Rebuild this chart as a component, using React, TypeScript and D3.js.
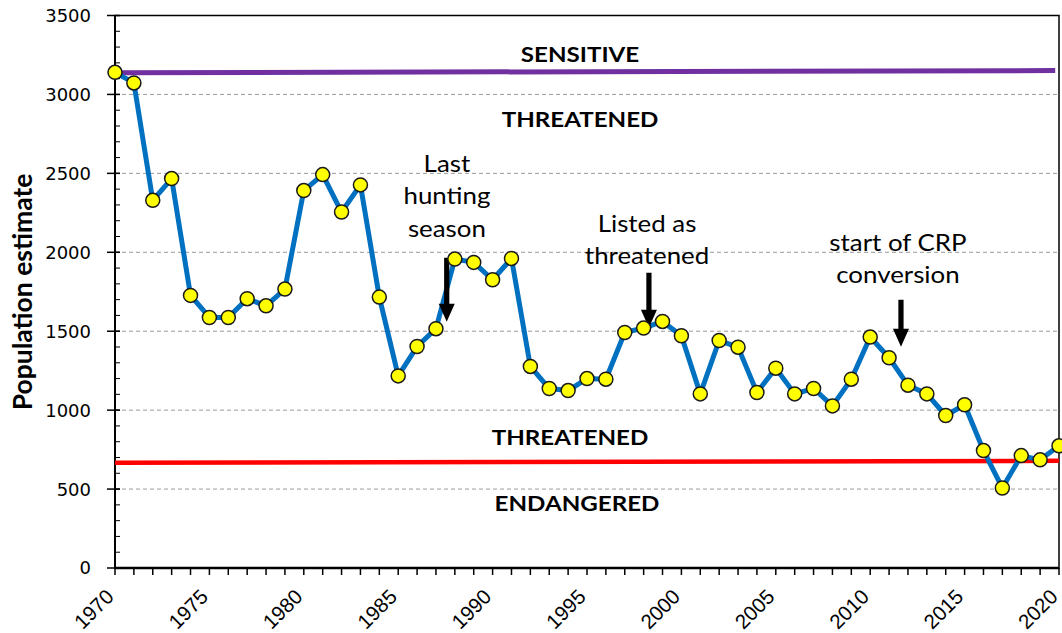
import React from "react";
import * as d3 from "d3";

const years: number[] = d3.range(1970, 2021);
const population: number[] = [
  3140, 3073, 2329, 2467, 1727, 1587, 1587, 1706, 1661, 1767,
  2391, 2492, 2255, 2427, 1716, 1217, 1403, 1516, 1957, 1936,
  1826, 1961, 1277, 1137, 1124, 1200, 1196, 1492, 1520, 1562,
  1471, 1103, 1441, 1399, 1112, 1266, 1103, 1137, 1027, 1196,
  1463, 1332, 1158, 1103, 966, 1034, 744, 507, 712, 685, 774,
];
const yTicks: number[] = [0, 500, 1000, 1500, 2000, 2500, 3000, 3500];
const xTickLabels: number[] = [1970, 1975, 1980, 1985, 1990, 1995, 2000, 2005, 2010, 2015, 2020];

const sensitiveLine = { x0: 1970, y0: 3137, x1: 2019.8, y1: 3151 };
const endangeredLine = { x0: 1970, y0: 666, x1: 2020, y1: 679 };

const zoneLabels = [
  { text: "SENSITIVE", x: 1994.63, y: 3208 },
  { text: "THREATENED", x: 1994.63, y: 2796 },
  { text: "THREATENED", x: 1994.1, y: 780 },
  { text: "ENDANGERED", x: 1994.47, y: 361 },
];

const annotations = [
  { lines: ["Last", "hunting", "season"], x: 1987.58, y: 2511, ax: 1987.57, aTop: 1966, aBottom: 1560 },
  { lines: ["Listed as", "threatened"], x: 1998.18, y: 2130, ax: 1998.28, aTop: 1870, aBottom: 1522 },
  { lines: ["start of CRP", "conversion"], x: 2011.47, y: 2010, ax: 2011.63, aTop: 1699, aBottom: 1401 },
];

export default function App() {
  const W = 1062, H = 633;
  const left = 115, right = 1059, top = 15.5, bottom = 568;
  const sx = 1.15;
  const x = d3.scaleLinear().domain([1970, 2020]).range([left, right]);
  const y = d3.scaleLinear().domain([0, 3500]).range([bottom, top]);
  const line = d3.line<number>().x((_, i) => x(years[i])).y((d) => y(d));
  const minorY = d3.range(0, 3501, 100);

  return (
    <svg width={W} height={H} style={{ position: "absolute", left: 0, top: 0, background: "#fff" }}>
      {/* gridlines */}
      {yTicks.slice(1, -1).map((t) => (
        <line key={"g" + t} x1={left} x2={right} y1={y(t)} y2={y(t)} stroke="#9a9a9a" strokeWidth={1} strokeDasharray="4,3" />
      ))}
      {/* plot border */}
      <rect x={left} y={top} width={right - left} height={bottom - top} fill="none" stroke="#000" strokeWidth={1.5} />
      <line x1={left} x2={right} y1={bottom} y2={bottom} stroke="#000" strokeWidth={2.5} />
      <line x1={left} x2={left} y1={top} y2={bottom} stroke="#000" strokeWidth={2} />
      {/* y minor ticks */}
      {minorY.map((t) => (
        <line key={"ym" + t} x1={left} x2={left + 5} y1={y(t)} y2={y(t)} stroke="#000" strokeWidth={1} />
      ))}
      {yTicks.map((t) => (
        <g key={"yt" + t}>
          <line x1={left - 8} x2={left + 5} y1={y(t)} y2={y(t)} stroke="#000" strokeWidth={1.5} />
          <text x={91} y={y(t)} dy="0.36em" textAnchor="end" fontFamily="DejaVu Sans" fontSize={18} fill="#000">{t}</text>
        </g>
      ))}
      {/* x ticks */}
      {years.map((yr) => (
        <line key={"xt" + yr} x1={x(yr)} x2={x(yr)} y1={bottom} y2={bottom + 7} stroke="#000" strokeWidth={1.5} />
      ))}
      {xTickLabels.map((yr) => (
        <text key={"xl" + yr} transform={`translate(${x(yr)},${bottom + 30}) rotate(-45)`} textAnchor="end"
          fontFamily="Liberation Sans" fontSize={20.5} fill="#000">{yr}</text>
      ))}
      <text transform={`translate(23,292) rotate(-90)`} textAnchor="middle" dy="0.35em"
        fontFamily="Lato" fontWeight="bold" fontSize={26.5} fill="#000">Population estimate</text>

      {/* thresholds */}
      <line x1={x(sensitiveLine.x0)} y1={y(sensitiveLine.y0)} x2={x(sensitiveLine.x1)} y2={y(sensitiveLine.y1)} stroke="#7030A0" strokeWidth={5} />
      <line x1={x(endangeredLine.x0)} y1={y(endangeredLine.y0)} x2={x(endangeredLine.x1)} y2={y(endangeredLine.y1)} stroke="#FF0000" strokeWidth={4.5} />
      {zoneLabels.map((z, i) => (
        <text key={"z" + i} transform={`translate(${x(z.x)},${y(z.y)}) scale(${sx},1)`} textAnchor="middle"
          fontFamily="Lato" fontWeight="bold" fontSize={21} fill="#000">{z.text}</text>
      ))}

      {/* data line */}
      <path d={line(population) || ""} fill="none" stroke="#0070C0" strokeWidth={5} strokeLinejoin="round" />

      {/* annotations */}
      {annotations.map((a, i) => {
        const ax = x(a.ax), t = y(a.aTop), b = y(a.aBottom);
        const hl = 18, hw = 8, sw = 2.6;
        const d = `M${ax - sw},${t} L${ax + sw},${t} L${ax + sw},${b - hl} L${ax + hw},${b - hl} L${ax},${b} L${ax - hw},${b - hl} L${ax - sw},${b - hl} Z`;
        return (
          <g key={"a" + i}>
            {a.lines.map((ln, j) => (
              <text key={j} transform={`translate(${x(a.x)},${y(a.y) + j * 32.5}) scale(${sx},1)`} textAnchor="middle"
                fontFamily="Lato" fontSize={22.5} fill="#000">{ln}</text>
            ))}
            <path d={d} fill="#000" />
          </g>
        );
      })}

      {/* points */}
      {population.map((v, i) => (
        <circle key={"p" + i} cx={x(years[i])} cy={y(v)} r={7} fill="#FFFF00" stroke="#1a1a1a" strokeWidth={1.5} />
      ))}
    </svg>
  );
}
